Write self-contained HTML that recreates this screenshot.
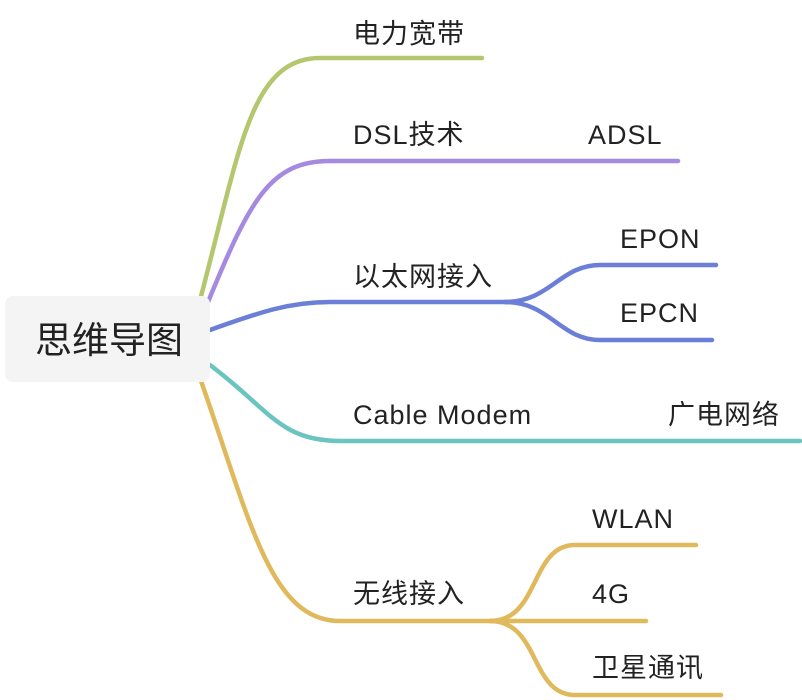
<!DOCTYPE html>
<html><head><meta charset="utf-8"><style>
html,body{margin:0;padding:0;background:#fff;}
svg{display:block;}
text{font-family:"Liberation Sans","Noto Sans CJK SC",sans-serif;font-size:27px;fill:#222;letter-spacing:1px;}
</style></head><body>
<svg width="802" height="700" viewBox="0 0 802 700" xmlns="http://www.w3.org/2000/svg">
<g fill="none" stroke-width="4.5" stroke-linecap="round">
<path d="M200,300 C240,150 250,58 320,58 L482,58" stroke="#b5c76e"/>
<path d="M208,302 C250,200 270,161 330,161 L678,161" stroke="#a58ae0"/>
<path d="M210,330 C260,312 290,302 330,302 L510,302" stroke="#6b7fd8"/>
<path d="M505,302 C550,302 560,265 600,265 L716,265" stroke="#6b7fd8"/>
<path d="M505,302 C550,302 560,340 600,340 L712,340" stroke="#6b7fd8"/>
<path d="M210,365 C270,410 280,441 340,441 L800,441" stroke="#6cc4c0"/>
<path d="M200,378 C250,520 270,621 340,621 L495,621" stroke="#dfb95b"/>
<path d="M490,621 C540,621 530,545 575,545 L696,545" stroke="#dfb95b"/>
<path d="M490,621 L646,621" stroke="#dfb95b"/>
<path d="M490,621 C540,621 530,695 575,695 L721,695" stroke="#dfb95b"/>
</g>
<rect x="5" y="296" width="205" height="86" rx="8" fill="#f4f4f4"/>
<text x="35" y="353" style="font-size:37px;letter-spacing:0">思维导图</text>
<text x="353" y="43">电力宽带</text>
<text x="353" y="144">DSL技术</text>
<text x="588" y="144">ADSL</text>
<text x="353" y="286">以太网接入</text>
<text x="620" y="248">EPON</text>
<text x="620" y="322">EPCN</text>
<text x="353" y="424">Cable Modem</text>
<text x="668" y="424">广电网络</text>
<text x="353" y="603">无线接入</text>
<text x="592" y="528">WLAN</text>
<text x="592" y="603">4G</text>
<text x="592" y="677">卫星通讯</text>
</svg>
</body></html>
